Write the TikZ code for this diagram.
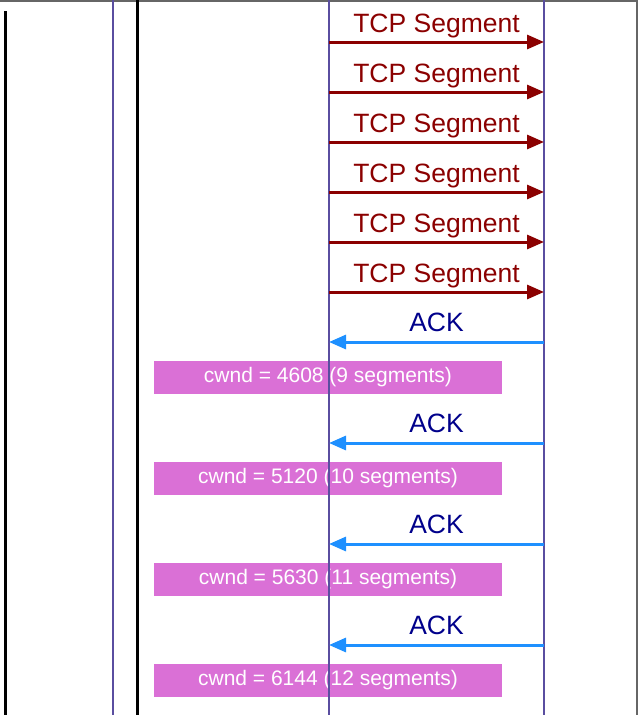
\documentclass[tikz,border=0pt]{standalone}
\usepackage{fontspec}
\setmainfont{Liberation Sans}
\usetikzlibrary{arrows.meta}
\definecolor{vida}{RGB}{90,78,160}
\definecolor{segrojo}{RGB}{139,0,0}
\definecolor{ackazul}{RGB}{30,144,255}
\definecolor{acktexto}{RGB}{0,0,139}
\definecolor{caja}{RGB}{218,112,214}
\tikzset{
  linea/.style={line width=2pt, draw=vida},
  borde/.style={line width=3pt, draw=black},
  segmento/.style={line width=3pt, draw=segrojo, -{Triangle[length=17pt,width=14pt]}},
  acuse/.style={line width=3pt, draw=ackazul, -{Triangle[length=17pt,width=14pt]}},
  etiqueta/.style={anchor=base, inner sep=0pt, font=\fontsize{26.5}{30}\selectfont},
  cajacwnd/.style={fill=caja, text=white, minimum width=348pt, minimum height=33pt,
    inner sep=0pt, font=\fontsize{21}{24}\selectfont}
}
\begin{document}
\begin{tikzpicture}[x=1pt,y=-1pt]
    \useasboundingbox (0,0) rectangle (638,715);
    % Marco de arriba y de la derecha
    \draw[line width=2pt, draw=gray!80!black] (0,1) -- (637,1) -- (637,715);
    % Cajas de cwnd
    \foreach \i/\cw/\n in {0/4608/9, 1/5120/10, 2/5630/11, 3/6144/12}
        \node[cajacwnd] (c\i) at (328,377.5+101*\i) {cwnd = \cw{} (\n{} segments)};
    % Lineas de vida
    \coordinate (izq-a) at (5,11);    \coordinate (izq-b) at (5,715);
    \coordinate (p1-a) at (113,0);    \coordinate (p1-b) at (113,715);
    \coordinate (neg-a) at (137,0);   \coordinate (neg-b) at (137,715);
    \coordinate (emi-a) at (329,0);   \coordinate (emi-b) at (329,715);
    \coordinate (rec-a) at (544,0);   \coordinate (rec-b) at (544,715);
    \draw[borde] (izq-a) -- (izq-b);
    \draw[linea] (p1-a) -- (p1-b);
    \draw[borde] (neg-a) -- (neg-b);
    \draw[linea] (emi-a) -- (emi-b);
    \draw[linea] (rec-a) -- (rec-b);
    % Segmentos TCP
    \foreach \i in {0,...,5} {
        \coordinate (ts\i) at (329,42+50*\i);
        \coordinate (tr\i) at (544,42+50*\i);
        \draw[segmento] (ts\i) -- (tr\i);
        \node[etiqueta, text=segrojo] (tl\i) at (436.5,32+50*\i) {TCP Segment};
    }
    % ACKs
    \foreach \i in {0,...,3} {
        \coordinate (ar\i) at (544,342+101*\i);
        \coordinate (as\i) at (329,342+101*\i);
        \draw[acuse] (ar\i) -- (as\i);
        \node[etiqueta, text=acktexto] (al\i) at (436.5,331+101*\i) {ACK};
    }
\end{tikzpicture}
\end{document}
